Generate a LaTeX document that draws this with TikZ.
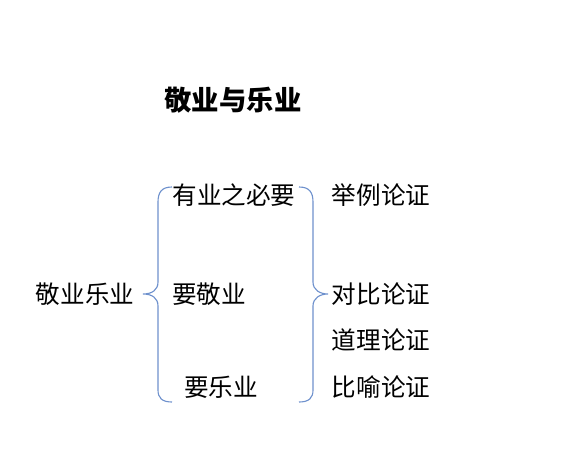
\documentclass[tikz,border=0pt]{standalone}
\usepackage{fontspec}
\setmainfont{Noto Sans CJK SC}
\usepackage{tikz}
\usetikzlibrary{calc}
\definecolor{bracecol}{RGB}{110,145,205}

\begin{document}
\begin{tikzpicture}[x=0.025cm,y=-0.025cm,
        word/.style={inner sep=0pt,font=\fontsize{17.5}{20}\selectfont},
        brace/.style={draw=bracecol,line width=0.8pt}]
        \useasboundingbox (0,0) rectangle (565,473);
        \node[inner sep=0pt,font=\fontsize{19.5}{22}\selectfont\bfseries] (title) at (233,100) {敬业与乐业};
        \node[word] (root) at (85,294) {敬业乐业};
        \node[word] (need) at (234,195) {有业之必要};
        \node[word] (jing) at (209,294) {要敬业};
        \node[word] (le) at (221,387) {要乐业};
        \node[word] (a) at (381,195) {举例论证};
        \node[word] (b) at (381,294) {对比论证};
        \node[word] (c) at (381,340) {道理论证};
        \node[word] (d) at (381,387) {比喻论证};
        \coordinate (ltip) at (143,294);
        \coordinate (rtip) at (328,294);
        \draw[brace] (172,187) .. controls (162,187) and (158,192) .. (158,202)
                -- (158,282) .. controls (158,290) and (152,294) .. (ltip)
                .. controls (152,294) and (158,298) .. (158,306)
                -- (158,390) .. controls (158,398) and (162,402) .. (172,402);
        \draw[brace] (299,187) .. controls (309,187) and (313,192) .. (313,202)
                -- (313,282) .. controls (313,290) and (320,294) .. (rtip)
                .. controls (320,294) and (313,298) .. (313,306)
                -- (313,390) .. controls (313,398) and (309,402) .. (299,402);
\end{tikzpicture}
\end{document}
